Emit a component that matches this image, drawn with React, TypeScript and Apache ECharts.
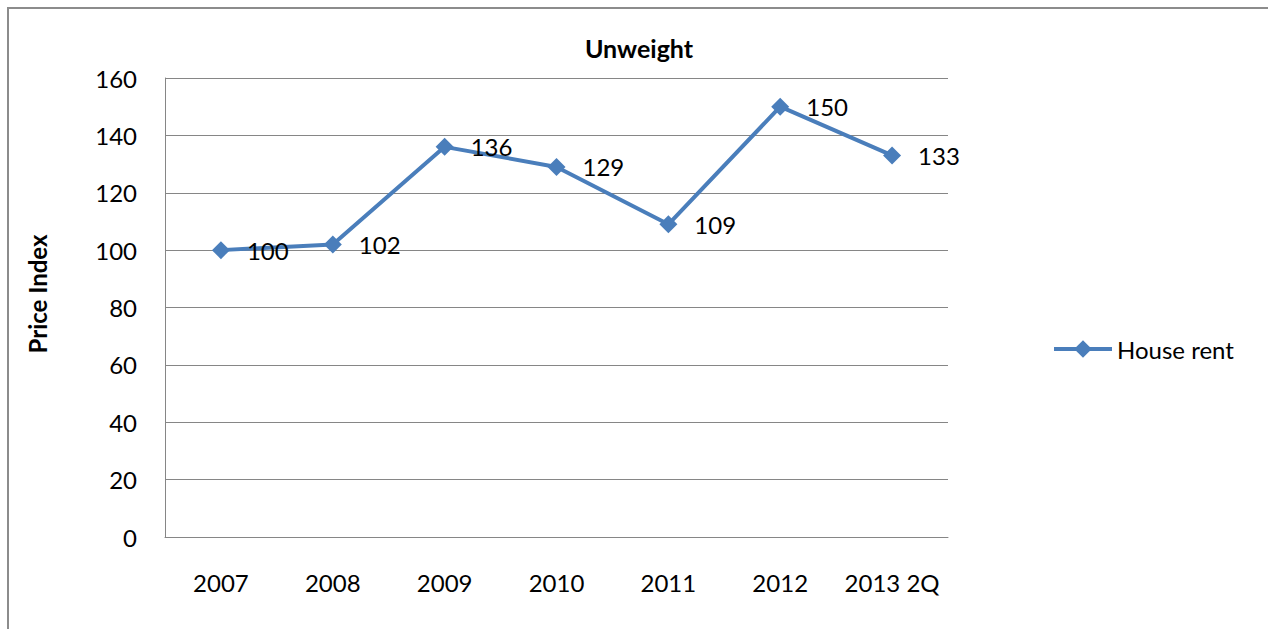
import React, { useEffect, useRef } from "react";
import * as echarts from "echarts";

const categories = ["2007", "2008", "2009", "2010", "2011", "2012", "2013 2Q"];
const houseRent = [100, 102, 136, 129, 109, 150, 133];
const yTicks = { min: 0, max: 160, interval: 20 };
const titleText = "Unweight";
const yAxisTitle = "Price Index";
const seriesName = "House rent";

const FONT = "Lato, 'Open Sans', sans-serif";

export default function App() {
  const ref = useRef<HTMLDivElement>(null);
  useEffect(() => {
    document.body.style.margin = "0";
    const chart = echarts.init(ref.current!, undefined, { renderer: "svg" });
    chart.setOption({
      animation: false,
      backgroundColor: "#ffffff",
      textStyle: { fontFamily: FONT },
      graphic: [
        {
          type: "rect",
          shape: { x: 8, y: 8, width: 1400, height: 800 },
          style: { fill: "none", stroke: "#8c8c8c", lineWidth: 2 },
          silent: true,
          z: 0,
        },
        {
          type: "text",
          x: 639,
          y: 48,
          style: {
            text: titleText,
            font: `bold 25px ${FONT}`,
            fill: "#000",
            align: "center",
            verticalAlign: "middle",
          },
        },
        {
          type: "text",
          x: 37,
          y: 294,
          rotation: Math.PI / 2,
          style: {
            text: yAxisTitle,
            font: `bold 24px ${FONT}`,
            fill: "#000",
            align: "center",
            verticalAlign: "middle",
          },
        },
      ],
      legend: {
        left: 1052,
        top: 337,
        padding: 0,
        itemWidth: 58,
        itemHeight: 22,
        itemGap: 6,
        lineStyle: { width: 4 },
        textStyle: { fontSize: 24, color: "#000", fontFamily: FONT },
        data: [seriesName],
      },
      grid: { left: 165, top: 78, width: 783, height: 459, containLabel: false },
      xAxis: {
        type: "category",
        data: categories,
        boundaryGap: true,
        axisLine: { show: true, lineStyle: { color: "#868686", width: 1 } },
        axisTick: { show: false },
        axisLabel: { interval: 0, fontSize: 24, color: "#000", margin: 33, fontFamily: FONT },
      },
      yAxis: {
        type: "value",
        min: yTicks.min,
        max: yTicks.max,
        interval: yTicks.interval,
        axisLine: { show: true, lineStyle: { color: "#868686", width: 1 } },
        axisTick: { show: false },
        axisLabel: { fontSize: 24, color: "#000", margin: 28, fontFamily: FONT },
        splitLine: { show: true, lineStyle: { color: "#868686", width: 1 } },
      },
      series: [
        {
          name: seriesName,
          type: "line",
          data: houseRent,
          symbol: "diamond",
          symbolSize: 18,
          itemStyle: { color: "#4a7ebb" },
          lineStyle: { color: "#4a7ebb", width: 4 },
          label: {
            show: true,
            position: "right",
            distance: 17,
            fontSize: 24,
            color: "#000",
            fontFamily: FONT,
          },
        },
      ],
    });
    return () => chart.dispose();
  }, []);
  return <div ref={ref} style={{ width: 1268, height: 629 }} />;
}
